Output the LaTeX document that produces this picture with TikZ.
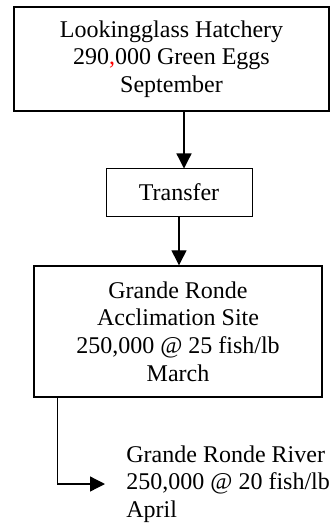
\documentclass[tikz,border=0pt]{standalone}
\usepackage{fontspec}
\setmainfont{Liberation Serif}
\usepackage{xcolor}
\usepackage{tikz}
\usetikzlibrary{arrows.meta, calc}

\begin{document}
\begin{tikzpicture}[
  x=0.5pt, y=-0.5pt,
  font=\fontsize{12}{13.8}\selectfont,
  hatchbox/.style={draw, line width=1pt, align=center, inner sep=0pt, minimum width=157.5pt, minimum height=52pt},
  transbox/.style={draw, line width=0.5pt, align=center, inner sep=0pt, minimum width=73pt, minimum height=23.5pt},
  sitebox/.style={draw, line width=0.7pt, align=center, inner sep=0pt, minimum width=144pt, minimum height=65.5pt},
  arr/.style={-{Triangle[length=7.5pt, width=7.5pt]}, line width=0.65pt}
]
  \useasboundingbox (0,0) rectangle (330,529);

  % Kutije
  \node[hatchbox] (hatch) at (171.5, 59)
    {Lookingglass Hatchery\\290\textcolor{red}{,}000 Green Eggs\\September};
  \node[transbox] (trans) at (179, 192.5) {Transfer};
  \node[sitebox] (site) at (178, 331.5)
    {Grande Ronde\\Acclimation Site\\250,000 @ 25 fish/lb\\March};

  % Rijeka
  \node[align=left, anchor=west, inner sep=0pt] (river) at (126, 484)
    {Grande Ronde River\\250,000 @ 20 fish/lb\\April};

  % Poveznice
  \coordinate (hatchout) at ($(hatch.south)+(12.5,0)$);
  \coordinate (siteout) at ($(site.south west)+(24,0)$);
  \draw[arr] (hatchout) -- (hatchout |- trans.north);
  \draw[arr] (trans.south) -- (trans.south |- site.north);
  \draw[arr] (siteout) |- ([xshift=-10.5pt]river.west);
\end{tikzpicture}
\end{document}
